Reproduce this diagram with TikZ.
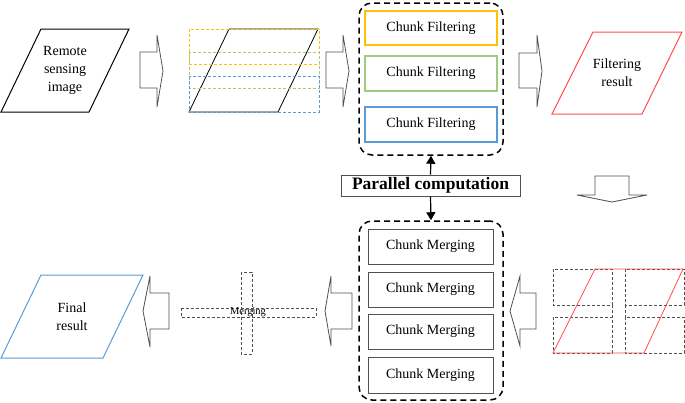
\documentclass[tikz,border=0pt]{standalone}
\usepackage{fontspec}
\setmainfont{Liberation Serif}
\usetikzlibrary{arrows.meta}
\definecolor{cyel}{HTML}{FFC000}
\definecolor{cgrn}{HTML}{A0CC80}
\definecolor{cblu}{HTML}{5B9BD5}
\definecolor{cred}{HTML}{FF4D4D}
\definecolor{cgry}{HTML}{505050}
\tikzset{
  blockarrow/.style={draw=cgry, line width=0.8pt},
  para/.style={line width=1pt},
  lbl/.style={font=\fontsize{14}{18}\selectfont, align=center, inner sep=0pt},
  chunkbox/.style={draw, line width=1.1pt, font=\fontsize{14}{16}\selectfont, minimum width=132pt, inner sep=0pt},
  mergebox/.style={draw=cgry, line width=1pt, font=\fontsize{14}{16}\selectfont, minimum width=125pt, minimum height=35pt, inner sep=0pt},
  groupbox/.style={draw, dashed, dash pattern=on 6pt off 4pt, line width=1.5pt, rounded corners=13pt, inner sep=0pt},
  smalldash/.style={dashed, dash pattern=on 3pt off 2pt, line width=0.9pt},
}
\begin{document}
\begin{tikzpicture}[x=1pt,y=-1pt]
\useasboundingbox (0,0) rectangle (685,402);

% Remote sensing image
\draw[para] (41,29)--(129,29)--(89,112)--(1,112)--cycle;
\node[lbl] (rsi) at (65,70.5) {Remote\\sensing\\image};

% arrow 1
\draw[blockarrow] (140,52)--(157,52)--(157,35)--(163,71)--(157,107)--(157,88)--(140,88)--cycle;

% chunked image
\draw[line width=0.8pt] (229,29)--(318,29)--(278,112)--(189,112)--cycle;
\draw[smalldash, cyel] (189,29) rectangle (319,64);
\draw[smalldash, cgrn] (189,52) rectangle (319,88);
\draw[smalldash, cblu] (189,76) rectangle (319,112);

% arrow 2
\draw[blockarrow] (326,52)--(343,52)--(343,35)--(349,71)--(343,107)--(343,88)--(326,88)--cycle;

% filtering group
\node[groupbox, minimum width=144pt, minimum height=152pt] (fbox) at (431,79) {};
\node[chunkbox, draw=cyel, minimum height=34pt] (f1) at (431,28) {Chunk Filtering};
\node[chunkbox, draw=cgrn, minimum height=35pt] (f2) at (431,73.5) {Chunk Filtering};
\node[chunkbox, draw=cblu, minimum height=35pt] (f3) at (431,124.5) {Chunk Filtering};

% arrow 3
\draw[blockarrow] (519,53)--(537,53)--(537,35)--(542,71)--(537,107)--(537,88)--(519,88)--cycle;

% Filtering result
\draw[para, cred] (593,32)--(682,32)--(642,114)--(552,114)--cycle;
\node[lbl] (fr) at (617,73) {Filtering\\result};

% down arrow
\draw[blockarrow] (595,176)--(629,176)--(629,195)--(647,195)--(612,202)--(577,195)--(595,195)--cycle;

% parallel computation
\node[draw=cgry, line width=1pt, minimum width=179pt, minimum height=21pt, inner sep=0pt,
      font=\bfseries\fontsize{17.5}{20}\selectfont] (pc) at (430.5,185.5) {Parallel computation};

% merging group
\node[groupbox, minimum width=144pt, minimum height=179pt] (mbox) at (431,310.5) {};
\node[mergebox] (m1) at (430.5,246.5) {Chunk Merging};
\node[mergebox] (m2) at (430.5,289.5) {Chunk Merging};
\node[mergebox] (m3) at (430.5,331.5) {Chunk Merging};
\node[mergebox, minimum height=36pt] (m4) at (430.5,375) {Chunk Merging};

\draw[line width=1.2pt, -{Triangle[width=9pt,length=8pt]}] (pc.north) -- (fbox.south);
\draw[line width=1.2pt, -{Triangle[width=9pt,length=8pt]}] (pc.south) -- (mbox.north);

% chunked filtering result
\draw[smalldash, cgry] (553,269) rectangle (612,305);
\draw[smalldash, cgry] (625,269) rectangle (684,305);
\draw[smalldash, cgry] (553,317) rectangle (612,353);
\draw[smalldash, cgry] (625,317) rectangle (684,353);
\draw[smalldash, cgry] (612,305) -- (612,317);
\draw[smalldash, cgry] (625,305) -- (625,317);
\draw[line width=0.8pt, cred] (595,269)--(683,269)--(644,353)--(553,353)--cycle;

% left arrows
\draw[blockarrow] (536,293)--(520,293)--(520,276)--(510,311)--(520,346)--(520,329)--(536,329)--cycle;
\draw[blockarrow] (352,293)--(331,293)--(331,276)--(325,311)--(331,346)--(331,329)--(352,329)--cycle;
\draw[blockarrow] (169,293)--(150,293)--(150,276)--(143,311)--(150,347)--(150,329)--(169,329)--cycle;

% merging cross
\draw[smalldash, cgry] (181,308) rectangle (316,317);
\draw[smalldash, cgry] (241,272) rectangle (252,354);
\node[inner sep=0pt, font=\fontsize{10.5}{12}\selectfont] (mg) at (248,312.5) {Merging};

% Final result
\draw[para, cblu] (41,275)--(143,275)--(103,358)--(1,358)--cycle;
\node[lbl] (fin) at (72,317) {Final\\result};
\end{tikzpicture}
\end{document}
